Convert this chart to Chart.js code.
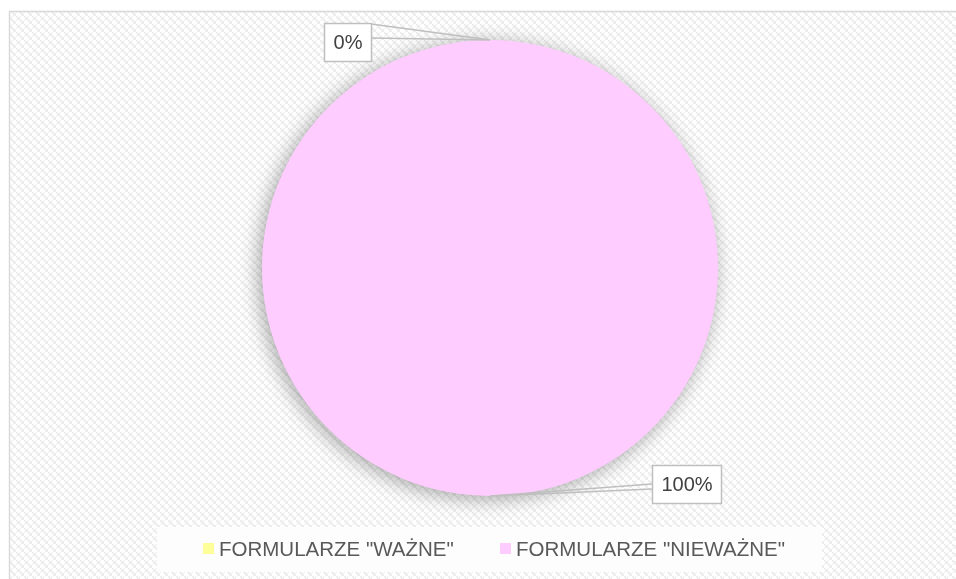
<!DOCTYPE html>
<html>
<head>
<meta charset="utf-8">
<script src="https://cdn.jsdelivr.net/npm/chart.js@4.4.1/dist/chart.umd.min.js"></script>
<style>
  html, body { margin: 0; padding: 0; background: #fff; }
  canvas { display: block; }
</style>
</head>
<body>
<canvas id="pieChart" width="956" height="579"></canvas>
<script>
// Chart data
const categories = ['FORMULARZE "WAŻNE"', 'FORMULARZE "NIEWAŻNE"'];
const shares = [0, 100];
const shareLabels = ["0%", "100%"];
const sliceColors = ["#ffff99", "#ffccff"];

const FONT = "'Liberation Sans', Arial, sans-serif";

// light woven background like the office chart area
function makePattern(ctx) {
  const tile = document.createElement("canvas");
  tile.width = 8;
  tile.height = 8;
  const t = tile.getContext("2d");
  t.fillStyle = "#ffffff";
  t.fillRect(0, 0, 8, 8);
  t.fillStyle = "#eeeeee";
  for (let i = 0; i < 8; i++) {
    t.fillRect(i, i, 2, 2);
    t.fillRect((i + 4) % 8, (8 - i) % 8, 1, 1);
  }
  return ctx.createPattern(tile, "repeat");
}

const backgroundPlugin = {
  id: "background",
  beforeDraw(chart) {
    const ctx = chart.ctx;
    ctx.save();
    ctx.fillStyle = "#ffffff";
    ctx.fillRect(0, 0, chart.width, chart.height);
    ctx.fillStyle = makePattern(ctx);
    ctx.fillRect(10, 12, chart.width - 10, chart.height - 12);
    ctx.strokeStyle = "#d9d9d9";
    ctx.lineWidth = 1.5;
    ctx.beginPath();
    ctx.moveTo(9.5, chart.height);
    ctx.lineTo(9.5, 11.5);
    ctx.lineTo(chart.width, 11.5);
    ctx.stroke();
    ctx.restore();
  },
};

// soft shadow round the pie
const shadowPlugin = {
  id: "pieShadow",
  beforeDatasetsDraw(chart) {
    const ctx = chart.ctx;
    ctx.save();
    ctx.shadowColor = "rgba(0,0,0,0.35)";
    ctx.shadowBlur = 20;
    ctx.shadowOffsetX = -3;
    ctx.shadowOffsetY = 3;
  },
  afterDatasetsDraw(chart) {
    chart.ctx.restore();
  },
};

// callout labels: box offsets from the slice anchor point
const calloutPlacement = [
  { side: "left", gap: 119, dy: -17 },
  { side: "right", gap: 162, dy: -31 },
];

const calloutPlugin = {
  id: "callouts",
  afterDraw(chart) {
    const ctx = chart.ctx;
    const meta = chart.getDatasetMeta(0);
    ctx.save();
    ctx.font = "20px " + FONT;
    meta.data.forEach((arc, i) => {
      const p = arc.getProps(["x", "y", "startAngle", "endAngle", "outerRadius"], true);
      const mid = (p.startAngle + p.endAngle) / 2;
      const ax = p.x + Math.cos(mid) * p.outerRadius;
      const ay = p.y + Math.sin(mid) * p.outerRadius;
      const text = shareLabels[i];
      const w = Math.round(ctx.measureText(text).width + 18);
      const h = 38;
      const place = calloutPlacement[i];
      const bx = place.side === "left" ? ax - place.gap - w : ax + place.gap;
      const by = ay + place.dy;
      const ex = place.side === "left" ? bx + w : bx;

      // leader wedge
      ctx.strokeStyle = "#bfbfbf";
      ctx.lineWidth = 1.5;
      ctx.beginPath();
      if (place.side === "left") {
        ctx.moveTo(ex, by + 1);
        ctx.lineTo(ax, ay);
        ctx.lineTo(ex, by + 15);
      } else {
        ctx.moveTo(ex, by + 19);
        ctx.lineTo(ax, ay);
        ctx.lineTo(ex, by + 24);
      }
      ctx.stroke();

      ctx.fillStyle = "#ffffff";
      ctx.fillRect(bx, by, w, h);
      ctx.strokeRect(bx + 0.5, by + 0.5, w, h);
      ctx.fillStyle = "#404040";
      ctx.textAlign = "center";
      ctx.textBaseline = "middle";
      ctx.fillText(text, bx + w / 2 + 0.5, by + h / 2 + 1);
    });
    ctx.restore();
  },
};

// legend at the bottom in a white box
const legendPlugin = {
  id: "bottomLegend",
  afterDraw(chart) {
    const ctx = chart.ctx;
    ctx.save();
    ctx.fillStyle = "#fdfdfd";
    ctx.fillRect(157, 527, 665, 45);
    ctx.font = "20.5px " + FONT;
    ctx.textBaseline = "middle";
    ctx.textAlign = "left";
    const itemX = [203, 500];
    categories.forEach((name, i) => {
      ctx.fillStyle = sliceColors[i];
      ctx.fillRect(itemX[i], 543, 11, 11);
      ctx.fillStyle = "#595959";
      ctx.fillText(name, itemX[i] + 16, 550);
    });
    ctx.restore();
  },
};

new Chart(document.getElementById("pieChart"), {
  type: "pie",
  data: {
    labels: categories,
    datasets: [
      {
        data: shares,
        backgroundColor: sliceColors,
        borderWidth: 0,
      },
    ],
  },
  options: {
    responsive: false,
    animation: false,
    layout: { padding: { left: 262, right: 238, top: 40, bottom: 83 } },
    plugins: {
      legend: { display: false },
      tooltip: { enabled: false },
    },
  },
  plugins: [backgroundPlugin, shadowPlugin, calloutPlugin, legendPlugin],
});
</script>
</body>
</html>
